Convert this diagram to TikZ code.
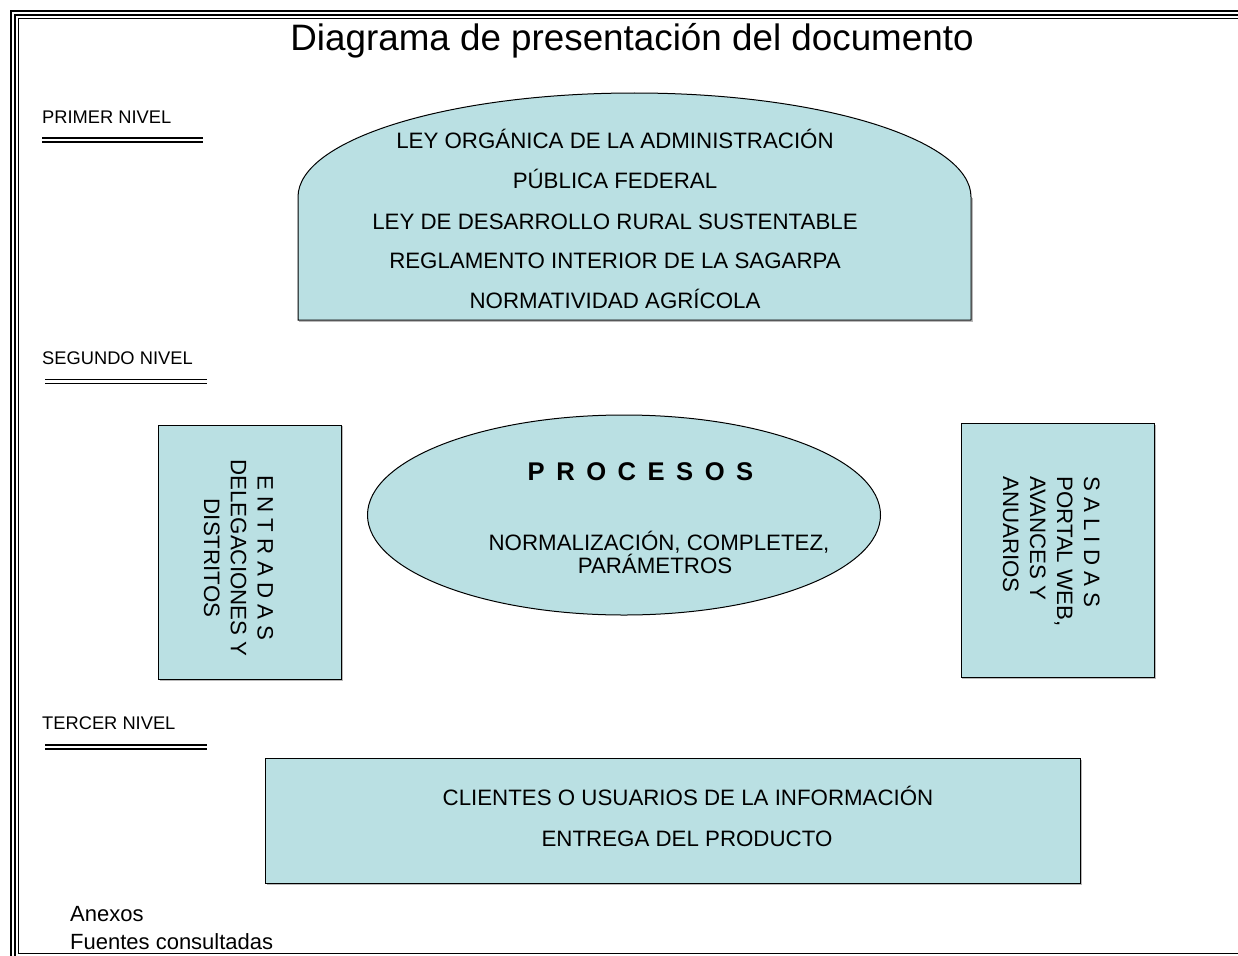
\documentclass[tikz,border=0pt]{standalone}
\usepackage{fontspec}
\setmainfont{Liberation Sans}
\definecolor{boxfill}{RGB}{186,224,227}
\tikzset{
  shapebox/.style={fill=boxfill, draw=black, line width=1pt},
  shadowline/.style={draw=gray!55, line width=1pt},
  lvl/.style={anchor=base west, inner sep=0pt, font=\fontsize{18.3}{22}\selectfont},
  boxtext/.style={anchor=base, inner sep=0pt, font=\fontsize{22.3}{26.7}\selectfont},
  dline/.style={line width=1.3pt, double distance=2.7pt},
}
\begin{document}
\begin{tikzpicture}[x=1pt,y=-1pt]
\useasboundingbox (0,0) rectangle (1238,955);
% page frame
\draw[line width=2.4pt] (11,965) -- (11,11) -- (1250,11);
\draw[line width=1.8pt] (15,965) -- (15,15) -- (1250,15);
\draw[line width=1.2pt] (1250,953.3) -- (18.7,953.3) -- (18.7,18.7) -- (1250,18.7);

% title
\node[anchor=base, inner sep=0pt, font=\fontsize{36.8}{40}\selectfont] (title) at (632,51) {Diagrama de presentación del documento};

% level labels
\node[lvl] (n1) at (42,123) {PRIMER NIVEL};
\draw[dline] (42,140) -- (203,140);
\node[lvl] (n2) at (42,364) {SEGUNDO NIVEL};
\draw[dline] (45,381.3) -- (206.5,381.3);
\node[lvl] (n3) at (42,729) {TERCER NIVEL};
\draw[dline] (45,747) -- (206.5,747);

% top shape (arched)
\draw[shadowline] (299.2,321.2) -- (972.2,321.2) -- (972.2,198);
\draw[shapebox] (298,320) -- (298,197) arc[start angle=180, end angle=360, x radius=336.5, y radius=104] -- (971,320) -- cycle;
\node[boxtext] (t1) at (615,148) {LEY ORGÁNICA DE LA ADMINISTRACIÓN};
\node[boxtext] (t2) at (615,188.5) {PÚBLICA FEDERAL};
\node[boxtext] (t3) at (615,229) {LEY DE DESARROLLO RURAL SUSTENTABLE};
\node[boxtext] (t4) at (615,268) {REGLAMENTO INTERIOR DE LA SAGARPA};
\node[boxtext] (t5) at (615,308) {NORMATIVIDAD AGRÍCOLA};

% left box
\draw[shadowline] (159.5,680.5) -- (342.2,680.5) -- (342.2,426);
\draw[shapebox] (158.3,425) rectangle (341,679.3);
\node[inner sep=0pt, rotate=-90, align=center, font=\fontsize{22.3}{26.7}\selectfont] (entr) at (238.5,558)
  {E N T R A D A S\\DELEGACIONES Y\\DISTRITOS};

% right box
\draw[shadowline] (962.2,678.9) -- (1155.2,678.9) -- (1155.2,424.5);
\draw[shapebox] (961,423.3) rectangle (1154,677.7);
\node[inner sep=0pt, rotate=-90, align=left, anchor=west, font=\fontsize{22.3}{27}\selectfont] (sal) at (1051.2,476)
  {S A L I D A S\\PORTAL WEB,\\AVANCES Y\\ANUARIOS};

% central ellipse
\draw[shapebox] (624,515) ellipse [x radius=256.5, y radius=100];
\node[anchor=base, inner sep=0pt, font=\fontsize{25.6}{30}\selectfont\bfseries] (proc) at (640.5,480)
  {\spaceskip=11.5pt P R O C E S O S};
\node[boxtext] (p1) at (659,550) {NORMALIZACIÓN, COMPLETEZ,};
\node[boxtext] (p2) at (655,573.3) {PARÁMETROS};

% bottom box
\draw[shadowline] (266.9,884.5) -- (1081.2,884.5) -- (1081.2,759.5);
\draw[shapebox] (265.7,758.3) rectangle (1080,883.3);
\node[boxtext] (c1) at (688,805) {CLIENTES O USUARIOS DE LA INFORMACIÓN};
\node[boxtext] (c2) at (687,846) {ENTREGA DEL PRODUCTO};

% footer
\node[anchor=base west, inner sep=0pt, font=\fontsize{22}{27}\selectfont] (anx) at (70,921.7) {Anexos};
\node[anchor=base west, inner sep=0pt, font=\fontsize{22}{27}\selectfont] (fue) at (70,949.3) {Fuentes consultadas};
\end{tikzpicture}
\end{document}
